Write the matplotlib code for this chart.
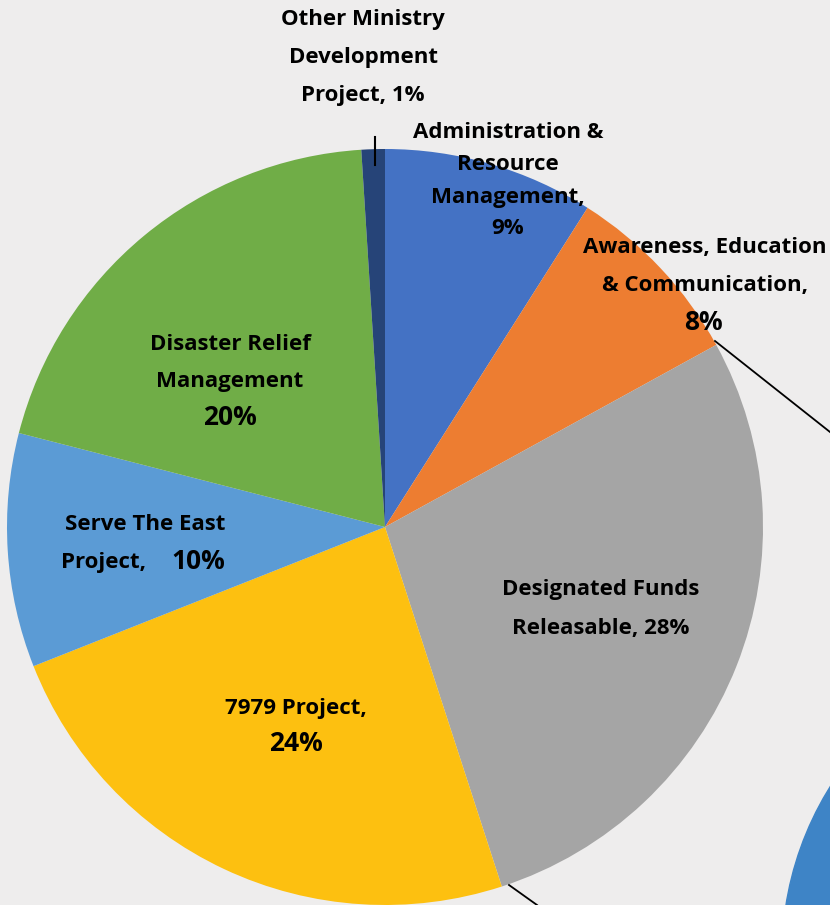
import matplotlib.pyplot as plt
from matplotlib.patches import Circle

# slice data, clockwise from 12 o'clock
labels = ['Administration & Resource Management', 'Awareness, Education & Communication',
          'Designated Funds Releasable', '7979 Project', 'Serve The East Project',
          'Disaster Relief Management', 'Other Ministry Development Project']
shares = [9, 8, 28, 24, 10, 20, 1]
colors = ['#4472C4', '#ED7D31', '#A5A5A5', '#FDC010', '#5B9BD5', '#70AD47', '#264478']

W, H = 830, 905
fig = plt.figure(figsize=(W / 100, H / 100), dpi=100)
fig.patch.set_facecolor('#EEEDED')
ax = fig.add_axes([0, 0, 1, 1])

# pie drawn in pixel coordinates (y axis flipped, so counterclock=True gives clockwise on screen)
ax.pie(shares, colors=colors, startangle=-90, counterclock=True,
       center=(385, 527), radius=378, frame=True,
       wedgeprops=dict(edgecolor='none'))
ax.set_xlim(0, W)
ax.set_ylim(H, 0)
ax.set_aspect('equal')
ax.axis('off')

# decorative blue circle and connector lines
ax.add_patch(Circle((1100, 955), 318, color='#3E84C6', zorder=1))
ax.plot([715, 830], [341, 432], color='black', lw=1.3, zorder=3)
ax.plot([509, 537], [885, 905], color='black', lw=1.3, zorder=3)
ax.plot([375, 375], [137, 165], color='black', lw=1.5, zorder=3)

font = 'Open Sans'
small = 16
big = 19


def put(x, y, s, size=small):
    ax.text(x, y, s, ha='center', va='center', fontsize=size, fontweight='bold',
            family=font, color='black', zorder=4)


# Other Ministry Development Project
put(363, 20, 'Other Ministry')
put(363, 58, 'Development')
put(363, 96, f'Project, {shares[6]}%')

# Administration & Resource Management
put(508, 132, 'Administration &')
put(508, 165, 'Resource')
put(508, 197, 'Management,')
put(508, 228, f'{shares[0]}%')

# Awareness, Education & Communication
put(705, 247, 'Awareness, Education')
put(705, 285, '& Communication,')
put(703, 322, f'{shares[1]}%', big)

# Designated Funds Releasable
put(601, 589, 'Designated Funds')
put(601, 628, f'Releasable, {shares[2]}%')

# 7979 Project
put(296, 708, '7979 Project,')
put(296, 743, f'{shares[3]}%', big)

# Serve The East Project
put(145, 524, 'Serve The East')
put(104, 562, 'Project,')
put(198, 561, f'{shares[4]}%', big)

# Disaster Relief Management
put(230, 344, 'Disaster Relief')
put(230, 381, 'Management')
put(230, 417, f'{shares[5]}%', big)

fig.savefig('out.png', dpi=100, facecolor=fig.get_facecolor())
